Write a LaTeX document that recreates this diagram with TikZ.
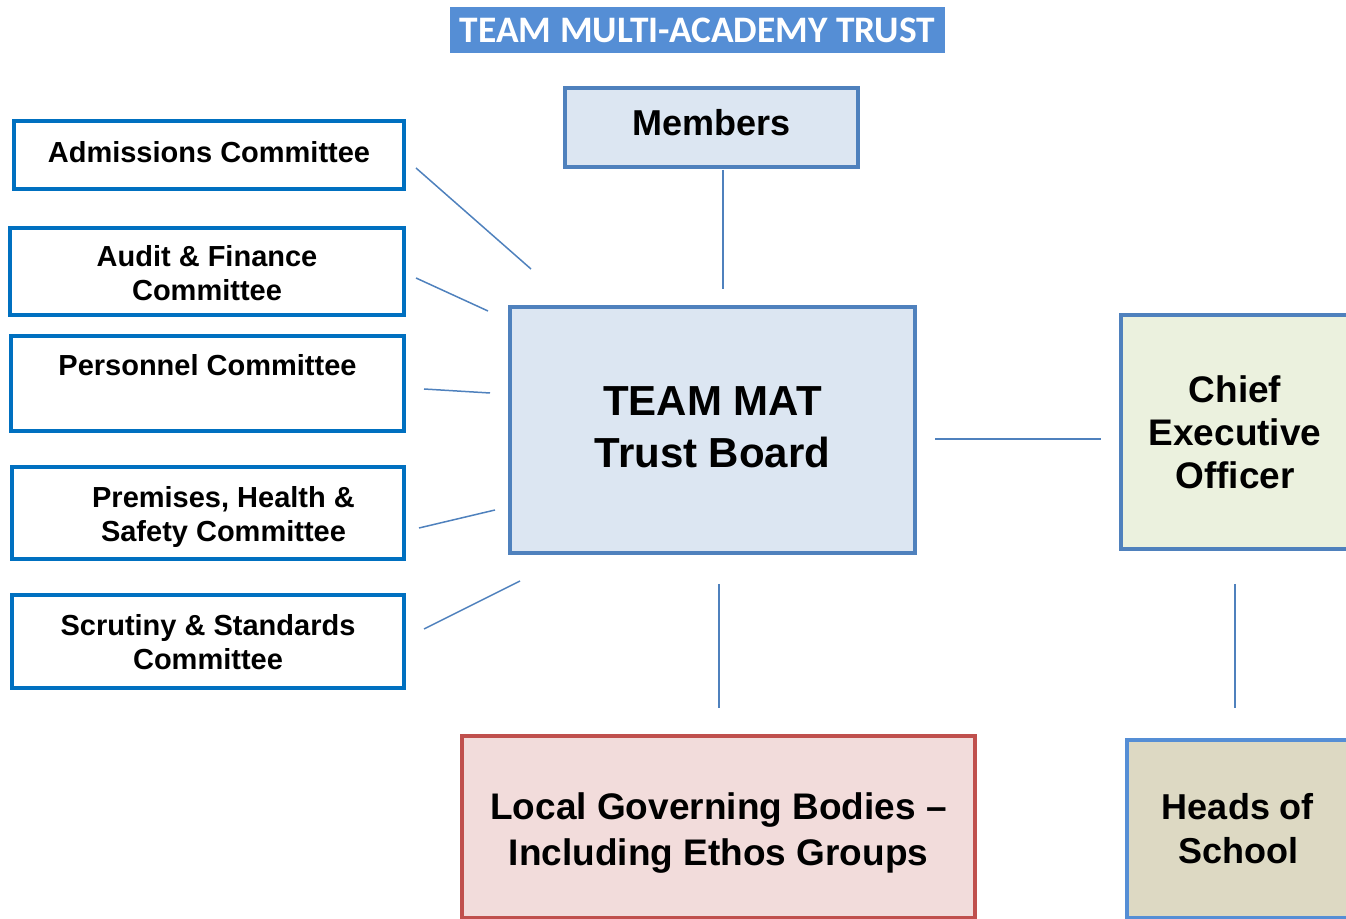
\documentclass[tikz,border=0pt]{standalone}
\usepackage{fontspec}
\setmainfont{Liberation Sans}
\newfontfamily\titlefont{Carlito}
\definecolor{accblue}{HTML}{4F81BD}
\definecolor{titleblue}{HTML}{558ED5}
\definecolor{combl}{HTML}{0070C0}
\definecolor{lightblue}{HTML}{DCE6F2}
\definecolor{lightgreen}{HTML}{EBF1DE}
\definecolor{lightred}{HTML}{F2DCDB}
\definecolor{darkred}{HTML}{C0504D}
\definecolor{tan}{HTML}{DDD9C3}
\begin{document}
\begin{tikzpicture}[x=0.5pt,y=-0.5pt,
  box/.style={draw, line width=2pt, inner sep=0pt, align=center, font=\bfseries},
  comfont/.style={font=\fontsize{14.5}{17}\selectfont\bfseries},
  combox/.style={box, draw=combl, fill=white, comfont},
  lbl/.style={inner sep=0pt, align=center},
  conn/.style={draw=accblue, line width=0.75pt}]
\useasboundingbox (0,0) rectangle (1346,919);
\clip (0,0) rectangle (1346,919);
% title
\node[fill=titleblue, text=white, minimum width=495*0.5pt, minimum height=46*0.5pt, inner sep=0pt,
  font=\titlefont\fontsize{18.7}{22}\selectfont\bfseries] (title) at (697.5,30) {TEAM MULTI-ACADEMY TRUST};
% main boxes
\node[box, draw=accblue, fill=lightblue, minimum width=293*0.5pt, minimum height=79*0.5pt,
  font=\fontsize{18}{22}\selectfont\bfseries, text depth=5pt] (members) at (711.5,127.5) {Members};
\node[box, draw=accblue, fill=lightblue, minimum width=405*0.5pt, minimum height=246*0.5pt,
  label={[lbl, yshift=1.5pt, font=\fontsize{21}{26}\selectfont\bfseries]center:{TEAM MAT\\Trust Board}}] (board) at (712.5,430) {};
\node[box, draw=accblue, fill=lightgreen, minimum width=228*0.5pt, minimum height=234*0.5pt,
  font=\fontsize{18.5}{21.5}\selectfont\bfseries] (ceo) at (1235,432) {Chief\\Executive\\Officer};
\node[box, draw=titleblue, fill=tan, minimum width=222*0.5pt, minimum height=178*0.5pt,
  font=\fontsize{18}{22}\selectfont\bfseries] (heads) at (1238,829) {Heads of\\School};
\node[box, draw=darkred, fill=lightred, minimum width=513*0.5pt, minimum height=182*0.5pt,
  label={[lbl, yshift=-3pt, font=\fontsize{18.5}{23}\selectfont\bfseries]center:{Local Governing Bodies –\\Including Ethos Groups}}] (lgb) at (718.5,827) {};
% committees
\node[combox, minimum width=390*0.5pt, minimum height=68*0.5pt, text depth=3.5pt] (adm) at (209,155) {Admissions Committee};
\node[combox, minimum width=394*0.5pt, minimum height=87*0.5pt,
  label={[lbl, comfont, yshift=-1pt]center:{Audit \& Finance\\Committee}}] (aud) at (207,271.5) {};
\node[combox, minimum width=393*0.5pt, minimum height=95*0.5pt, text depth=18.5pt] (pers) at (207.5,383.5) {Personnel Committee};
\node[combox, minimum width=392*0.5pt, minimum height=92*0.5pt,
  label={[lbl, comfont, yshift=-2pt, xshift=7.75pt]center:{Premises, Health \&\\Safety Committee}}] (prem) at (208,513) {};
\node[combox, minimum width=392*0.5pt, minimum height=93*0.5pt,
  label={[lbl, comfont, yshift=-0.5pt]center:{Scrutiny \& Standards\\Committee}}] (scr) at (208,641.5) {};
% connector end points
\coordinate (admA) at (416,168);  \coordinate (admB) at (531,269);
\coordinate (audA) at (416,278);  \coordinate (audB) at (488,311);
\coordinate (perA) at (424,389);  \coordinate (perB) at (490,393);
\coordinate (preA) at (419,528);  \coordinate (preB) at (495,510);
\coordinate (scrA) at (424,629);  \coordinate (scrB) at (520,581);
\coordinate (memA) at (723,170);  \coordinate (memB) at (723,289);
\coordinate (ceoA) at (935,439);  \coordinate (ceoB) at (1101,439);
\coordinate (lgbA) at (719,584);  \coordinate (lgbB) at (719,708);
\coordinate (hdsA) at (1235,584); \coordinate (hdsB) at (1235,708);
\draw[conn] (admA) -- (admB);
\draw[conn] (audA) -- (audB);
\draw[conn] (perA) -- (perB);
\draw[conn] (preA) -- (preB);
\draw[conn] (scrA) -- (scrB);
\draw[conn] (memA) -- (memB);
\draw[conn] (ceoA) -- (ceoB);
\draw[conn] (lgbA) -- (lgbB);
\draw[conn] (hdsA) -- (hdsB);
\end{tikzpicture}
\end{document}
